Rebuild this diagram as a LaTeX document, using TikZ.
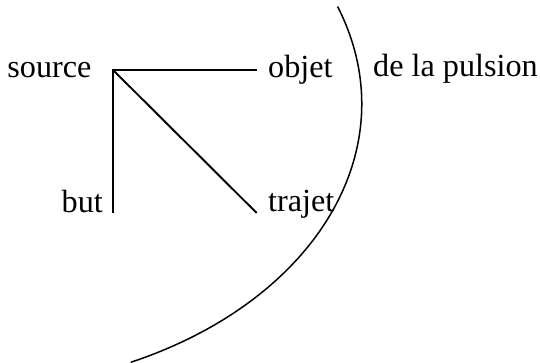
\documentclass[tikz,border=0pt]{standalone}
\usepackage{fontspec}
\setmainfont{Liberation Serif}
\usetikzlibrary{calc}
\begin{document}
\begin{tikzpicture}[x=1pt,y=1pt,
  lbl/.style={inner sep=0pt,font=\fontsize{32.2}{36}\selectfont},
  link/.style={line width=1.9pt},
  bound/.style={line width=1.5pt}]
\useasboundingbox (0,0) rectangle (540,363);
% vertex and line ends
\coordinate (v) at (113,293);
\coordinate (ho) at (256.7,293);
\coordinate (vb) at (113,150);
\coordinate (dt) at (256.7,150);
% labels
\node[lbl,anchor=base east] (src) at (91.7,285.5) {source};
\node[lbl,anchor=base east] (but) at (103,150) {but};
\node[lbl,anchor=base west] (obj) at (268,285.5) {objet};
\node[lbl,anchor=base west] (traj) at (268,151) {trajet};
\node[lbl,anchor=base west] (pul) at (373,286) {de la pulsion};
% connectors
\draw[link] (vb) -- (v) -- (ho);
\draw[link] (v) -- (dt);
% arc
\coordinate (arcstart) at ($(-38.3,259)+(20:400 and 285)$);
\draw[bound] (arcstart) arc[start angle=20,end angle=-65,x radius=400,y radius=285];
\end{tikzpicture}
\end{document}
